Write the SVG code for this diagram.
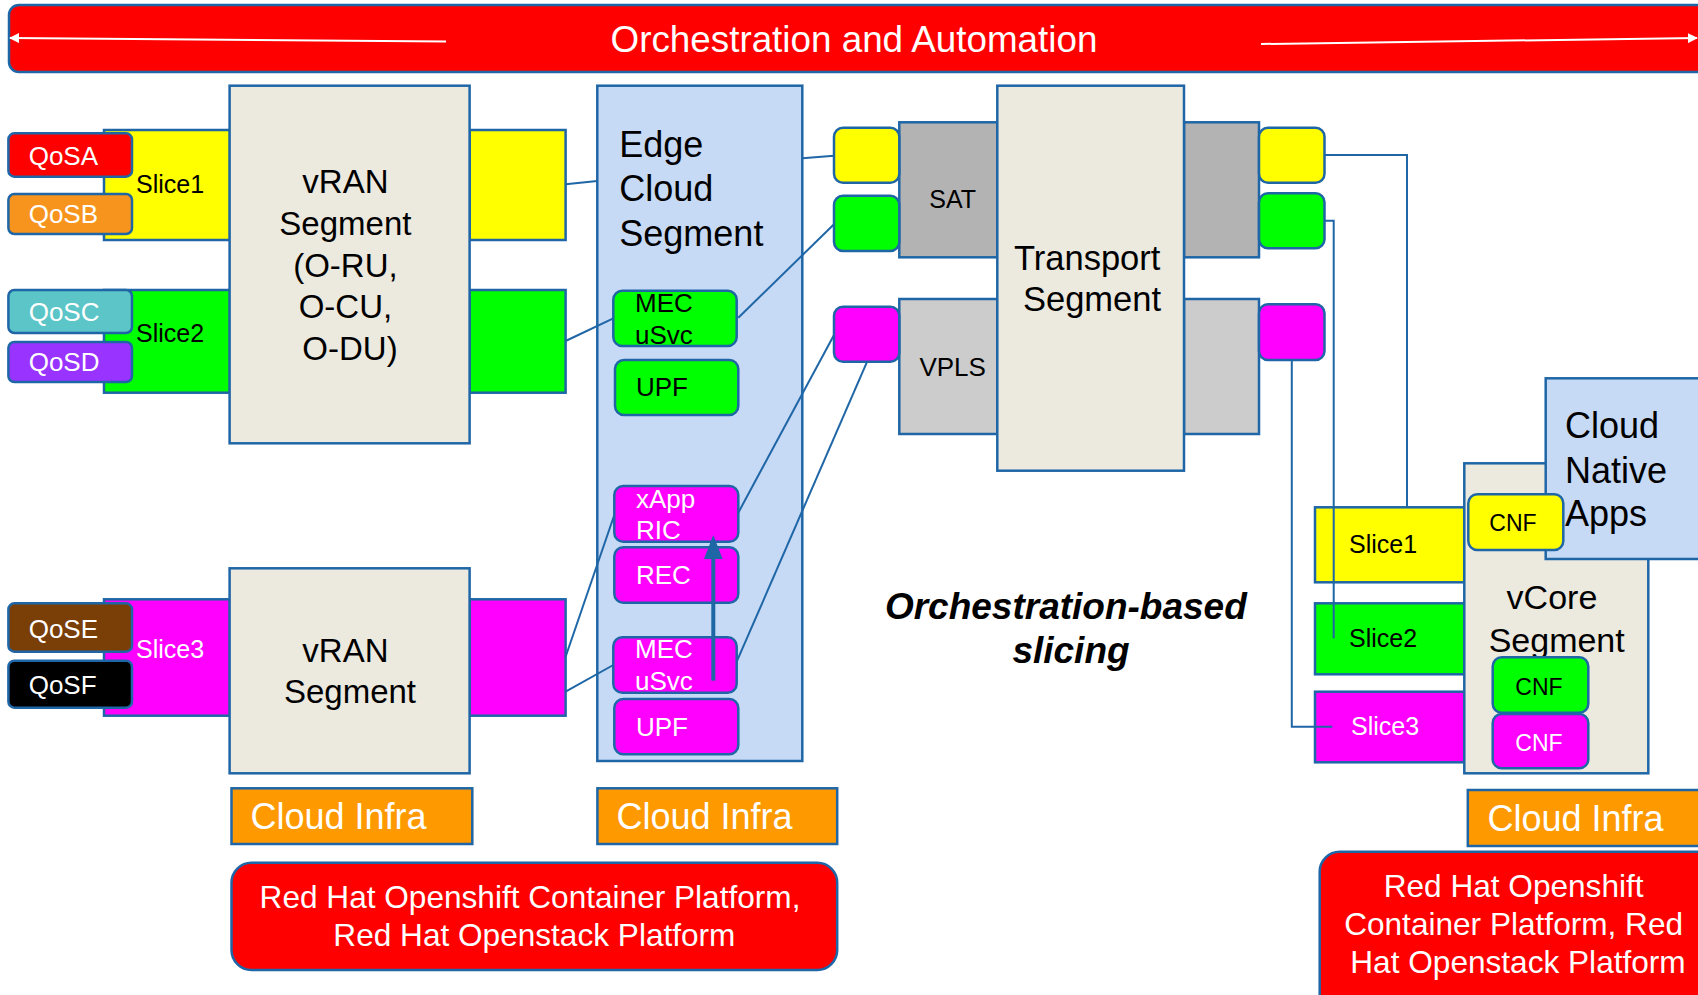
<svg xmlns="http://www.w3.org/2000/svg" width="1698" height="995" viewBox="0 0 1698 995">
  <defs>
    <style>
      text { font-family: "Liberation Sans", Arial, sans-serif; }
      .box { stroke: #1f66a6; stroke-width: 2.5; }
      .seg { fill: #ecE9df; }
      .cloud { fill: #c6d9f5; }
      .yel { fill: #ffff00; }
      .grn { fill: #00ff00; }
      .mag { fill: #ff00ff; }
      .blk { fill: #000000; }
      .wht { fill: #ffffff; }
      .conn { stroke: #1f66a6; stroke-width: 2; fill: none; }
      .banner-line { stroke: #ffffff; stroke-width: 2; fill: none; }
    </style>
    <marker id="wArrow" viewBox="0 0 10 10" refX="9" refY="5" markerWidth="5" markerHeight="5" orient="auto-start-reverse">
      <path d="M0,0 L10,5 L0,10 z" fill="#ffffff"/>
    </marker>
  </defs>

  <rect width="1698" height="995" fill="#ffffff"/>

  <!-- top banner -->
  <g id="orchestration">
    <rect class="box" x="9" y="5" width="1700" height="67" rx="10" fill="#ff0000"/>
    <text x="854" y="52" font-size="36.8" fill="#ffffff" text-anchor="middle">Orchestration and Automation</text>
    <line class="banner-line" x1="446" y1="41.5" x2="10" y2="38" marker-end="url(#wArrow)"/>
    <line class="banner-line" x1="1261" y1="44" x2="1697" y2="38" marker-end="url(#wArrow)"/>
  </g>

  <!-- slices around the first vRAN segment -->
  <g id="slice1-ran">
    <rect class="box yel" x="104" y="130" width="126" height="110"/>
    <rect class="box yel" x="469.6" y="130" width="96" height="110"/>
    <text x="136" y="192.5" font-size="25" class="blk">Slice1</text>
  </g>
  <g id="slice2-ran">
    <rect class="box grn" x="104" y="290" width="126" height="102.7"/>
    <rect class="box grn" x="469.6" y="290" width="96" height="102.7"/>
    <text x="136" y="342" font-size="25" class="blk">Slice2</text>
  </g>
  <g id="qosA"><rect class="box" x="8.4" y="133.3" width="123.6" height="43.4" rx="6" fill="#ff0000"/><text x="28.7" y="164.5" font-size="26" class="wht">QoSA</text></g>
  <g id="qosB"><rect class="box" x="8.4" y="194" width="123.6" height="40" rx="6" fill="#f7941d"/><text x="28.7" y="223" font-size="26" class="wht">QoSB</text></g>
  <g id="qosC"><rect class="box" x="8.4" y="290" width="123.6" height="43" rx="6" fill="#5bc5c8"/><text x="28.7" y="321" font-size="26" class="wht">QoSC</text></g>
  <g id="qosD"><rect class="box" x="8.4" y="342" width="123.6" height="40" rx="6" fill="#9933ff"/><text x="28.7" y="371" font-size="26" class="wht">QoSD</text></g>
  <g id="vran1">
    <rect class="box seg" x="229.6" y="85.7" width="240" height="357.6"/>
    <text font-size="33" class="blk" text-anchor="middle">
      <tspan x="350" y="193.3">vRAN</tspan>
      <tspan x="350" y="235">Segment</tspan>
      <tspan x="350" y="276.7">(O-RU,</tspan>
      <tspan x="350" y="318">O-CU,</tspan>
      <tspan x="350" y="360">O-DU)</tspan>
    </text>
  </g>

  <!-- slice 3 around the second vRAN segment -->
  <g id="slice3-ran">
    <rect class="box mag" x="104" y="599.3" width="126" height="116.4"/>
    <rect class="box mag" x="469.6" y="599.3" width="96" height="116.4"/>
    <text x="136" y="658.3" font-size="25" class="wht">Slice3</text>
  </g>
  <g id="qosE"><rect class="box" x="8.4" y="603.3" width="123.6" height="48.4" rx="6" fill="#7a3e07"/><text x="28.7" y="638" font-size="26" class="wht">QoSE</text></g>
  <g id="qosF"><rect class="box" x="8.4" y="660.7" width="123.6" height="47" rx="6" fill="#000000"/><text x="28.7" y="694" font-size="26" class="wht">QoSF</text></g>
  <g id="vran2">
    <rect class="box seg" x="229.6" y="568.3" width="240" height="205"/>
    <text font-size="33" class="blk" text-anchor="middle">
      <tspan x="350" y="662.3">vRAN</tspan>
      <tspan x="350" y="703.3">Segment</tspan>
    </text>
  </g>

  <!-- edge cloud -->
  <g id="edge-cloud">
    <rect class="box cloud" x="597.3" y="85.7" width="205" height="675.3"/>
    <text font-size="36" class="blk">
      <tspan x="619.3" y="156.7">Edge</tspan>
      <tspan x="619.3" y="200.7">Cloud</tspan>
      <tspan x="619.3" y="245.7">Segment</tspan>
    </text>
  </g>
  <g id="mec-green">
    <rect class="box grn" x="613.3" y="290.7" width="123.4" height="55.3" rx="9"/>
    <text font-size="26" class="blk"><tspan x="635" y="311.7">MEC</tspan><tspan x="635" y="344">uSvc</tspan></text>
  </g>
  <g id="upf-green">
    <rect class="box grn" x="615" y="360" width="123.3" height="55" rx="9"/>
    <text x="636" y="396" font-size="26" class="blk">UPF</text>
  </g>
  <g id="xapp-ric">
    <rect class="box mag" x="614.3" y="486" width="124" height="55.7" rx="9"/>
    <text font-size="26" class="wht"><tspan x="636" y="507.7">xApp</tspan><tspan x="636" y="539.3">RIC</tspan></text>
  </g>
  <g id="rec">
    <rect class="box mag" x="614.3" y="547.3" width="124" height="55.4" rx="9"/>
    <text x="636" y="584" font-size="26" class="wht">REC</text>
  </g>
  <g id="mec-magenta">
    <rect class="box mag" x="613.3" y="637.3" width="123.4" height="55.4" rx="9"/>
    <text font-size="26" class="wht"><tspan x="635" y="658.3">MEC</tspan><tspan x="635" y="690">uSvc</tspan></text>
  </g>
  <g id="upf-magenta">
    <rect class="box mag" x="614.3" y="699" width="124" height="55.3" rx="9"/>
    <text x="636" y="736" font-size="26" class="wht">UPF</text>
  </g>

  <!-- transport -->
  <g id="sat">
    <rect class="box" x="899.3" y="122.3" width="98" height="135" fill="#b3b3b3"/>
    <rect class="box" x="1184" y="122.3" width="75" height="135" fill="#b3b3b3"/>
    <text x="952.7" y="207.7" font-size="25" class="blk" text-anchor="middle">SAT</text>
  </g>
  <g id="vpls">
    <rect class="box" x="899.3" y="299" width="98" height="135" fill="#cccccc"/>
    <rect class="box" x="1184" y="299" width="75" height="135" fill="#cccccc"/>
    <text x="952.7" y="375.7" font-size="26" class="blk" text-anchor="middle">VPLS</text>
  </g>
  <g id="transport">
    <rect class="box seg" x="997.3" y="85.7" width="186.7" height="385"/>
    <text font-size="34.5" class="blk" text-anchor="middle">
      <tspan x="1092" y="270">Transport</tspan>
      <tspan x="1092" y="311">Segment</tspan>
    </text>
  </g>
  <g id="port-in-yellow"><rect class="box yel" x="834" y="127.7" width="65.3" height="55" rx="9"/></g>
  <g id="port-in-green"><rect class="box grn" x="834" y="195.7" width="65.3" height="55.3" rx="9"/></g>
  <g id="port-in-magenta"><rect class="box mag" x="834" y="306.7" width="65.3" height="55" rx="9"/></g>
  <g id="port-out-yellow"><rect class="box yel" x="1259" y="127.7" width="65.5" height="55" rx="9"/></g>
  <g id="port-out-green"><rect class="box grn" x="1259" y="193.3" width="65.5" height="55" rx="9"/></g>
  <g id="port-out-magenta"><rect class="box mag" x="1259" y="304.3" width="65.5" height="55.7" rx="9"/></g>

  <!-- core side -->
  <g id="slice1-core">
    <rect class="box yel" x="1315" y="507.3" width="149.3" height="75"/>
    <text x="1349" y="552.7" font-size="25" class="blk">Slice1</text>
  </g>
  <g id="slice2-core">
    <rect class="box grn" x="1315" y="603.3" width="149.3" height="71"/>
    <text x="1349" y="646.7" font-size="25" class="blk">Slice2</text>
  </g>
  <g id="slice3-core">
    <rect class="box mag" x="1315" y="691.7" width="149.3" height="70.6"/>
    <text x="1351" y="735" font-size="25" class="wht">Slice3</text>
  </g>
  <g id="vcore">
    <rect class="box seg" x="1464.3" y="463.3" width="184" height="310"/>
    <text font-size="34" class="blk" text-anchor="middle">
      <tspan x="1556.7" y="609">vCore</tspan>
      <tspan x="1556.7" y="651.7">Segment</tspan>
    </text>
  </g>
  <g id="cnf-green">
    <rect class="box grn" x="1492.7" y="657.3" width="95.6" height="55.4" rx="9"/>
    <text x="1539" y="695" font-size="23" class="blk" text-anchor="middle">CNF</text>
  </g>
  <g id="cnf-magenta">
    <rect class="box mag" x="1492.7" y="714" width="95.6" height="54.3" rx="9"/>
    <text x="1539" y="751" font-size="23" class="wht" text-anchor="middle">CNF</text>
  </g>
  <g id="cloud-native-apps">
    <rect class="box cloud" x="1545.7" y="378.3" width="160" height="180.7"/>
    <text font-size="36" class="blk">
      <tspan x="1565" y="438.3">Cloud</tspan>
      <tspan x="1565" y="482.7">Native</tspan>
      <tspan x="1565" y="526">Apps</tspan>
    </text>
  </g>
  <g id="cnf-yellow">
    <rect class="box yel" x="1468.3" y="494.3" width="95" height="55.7" rx="9"/>
    <text x="1513" y="531" font-size="23" class="blk" text-anchor="middle">CNF</text>
  </g>

  <!-- infrastructure -->
  <g id="infra-ran">
    <rect class="box" x="231.5" y="788.3" width="240.8" height="55.7" fill="#ff9900"/>
    <text x="250.5" y="829.3" font-size="36" class="wht">Cloud Infra</text>
  </g>
  <g id="infra-edge">
    <rect class="box" x="597.4" y="788.3" width="239.8" height="55.7" fill="#ff9900"/>
    <text x="616.5" y="829.3" font-size="36" class="wht">Cloud Infra</text>
  </g>
  <g id="infra-core">
    <rect class="box" x="1467.8" y="790" width="240" height="56" fill="#ff9900"/>
    <text x="1487.5" y="831" font-size="36" class="wht">Cloud Infra</text>
  </g>
  <g id="platform-ran-edge">
    <rect class="box" x="231.5" y="862.7" width="605.7" height="107.3" rx="20" fill="#ff0000"/>
    <text font-size="31.6" class="wht" text-anchor="middle">
      <tspan x="534.4" y="908.3">Red Hat Openshift Container Platform,</tspan>
      <tspan x="534.4" y="946">Red Hat Openstack Platform</tspan>
    </text>
  </g>
  <g id="platform-core">
    <rect class="box" x="1319.7" y="851.7" width="400" height="170" rx="20" fill="#ff0000"/>
    <text font-size="31.6" class="wht" text-anchor="middle">
      <tspan x="1518" y="897.3">Red Hat Openshift</tspan>
      <tspan x="1518" y="935">Container Platform, Red</tspan>
      <tspan x="1518" y="972.7">Hat Openstack Platform</tspan>
    </text>
  </g>

  <g id="caption">
    <text font-size="37" font-weight="bold" font-style="italic" class="blk" text-anchor="middle">
      <tspan x="1071" y="619.3">Orchestration-based</tspan>
      <tspan x="1071" y="663">slicing</tspan>
    </text>
  </g>

  <!-- connectors -->
  <g id="connectors">
    <line class="conn" x1="565.6" y1="184.3" x2="597.3" y2="181"/>
    <line class="conn" x1="802.3" y1="158.3" x2="834" y2="155.7"/>
    <line class="conn" x1="565.6" y1="341" x2="613.3" y2="318.3"/>
    <line class="conn" x1="738.3" y1="317.7" x2="834" y2="224.3"/>
    <line class="conn" x1="565.6" y1="656.7" x2="614.3" y2="515"/>
    <line class="conn" x1="565.6" y1="691.7" x2="613.3" y2="665"/>
    <line class="conn" x1="738.3" y1="512.7" x2="834" y2="335"/>
    <line class="conn" x1="736.7" y1="661.7" x2="866.7" y2="362.7"/>
    <polyline class="conn" points="1324.5,155 1407,155 1407,507.3"/>
    <polyline class="conn" points="1324.5,220.7 1333.7,220.7 1333.7,638.3"/>
    <polyline class="conn" points="1291.8,360 1291.8,726.7 1332.3,726.7"/>
    <line x1="713.3" y1="680.7" x2="713.3" y2="556" stroke="#1f66a6" stroke-width="4"/>
    <polygon points="713.3,535 704,559 722.6,559" fill="#1f66a6"/>
  </g>
</svg>
